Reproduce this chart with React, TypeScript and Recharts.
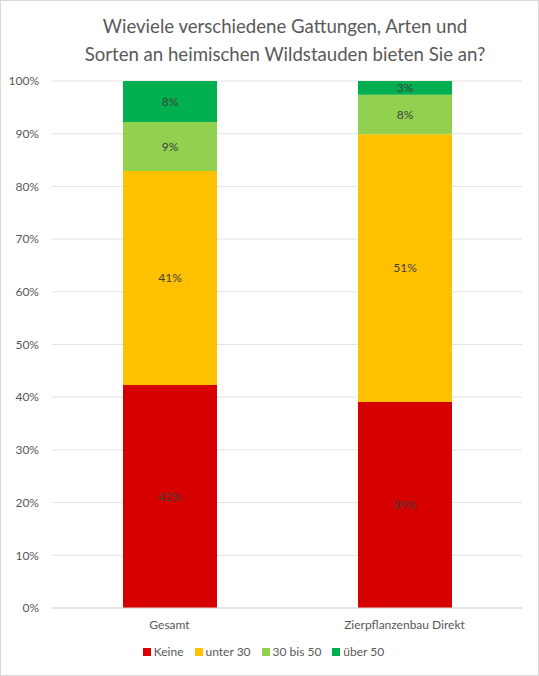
import React from 'react';
import { BarChart, Bar, XAxis, YAxis, CartesianGrid, Legend, LabelList } from 'recharts';

const categories = ['Gesamt', 'Zierpflanzenbau Direkt'];
const keine = [42.3, 39.1];
const unter30 = [40.6, 50.8];
const bis50 = [9.3, 7.5];
const ueber50 = [7.8, 2.6];
const yTicks = [0, 10, 20, 30, 40, 50, 60, 70, 80, 90, 100];

const SERIES = [
  { key: 'keine', name: 'Keine', color: '#d60000' },
  { key: 'unter30', name: 'unter 30', color: '#ffc000' },
  { key: 'bis50', name: '30 bis 50', color: '#92d050' },
  { key: 'ueber50', name: 'über 50', color: '#00b050' },
];

const data = categories.map((c, i) => ({
  name: c,
  keine: keine[i],
  unter30: unter30[i],
  bis50: bis50[i],
  ueber50: ueber50[i],
}));

const FONT = 'Lato, "Open Sans", sans-serif';

// legend in series order (recharts would sort it otherwise)
const renderLegend = () => (
  <div style={{ display: 'flex', justifyContent: 'center', gap: 11, fontSize: 12, color: '#595959', fontFamily: FONT }}>
    {SERIES.map(s => (
      <span key={s.key} style={{ display: 'flex', alignItems: 'center' }}>
        <span style={{ width: 8, height: 8, background: s.color, marginRight: 3, display: 'inline-block' }} />
        {s.name}
      </span>
    ))}
  </div>
);

export default function App() {
  return (
    <div style={{ position: 'absolute', left: 0, top: 0, width: 539, height: 676, background: '#fff', fontFamily: FONT }}>
      <div style={{ position: 'absolute', left: 0, top: 0, width: 537, height: 674, border: '1px solid #d9d9d9' }} />
      <div style={{ position: 'absolute', left: 30, width: 510, top: 12, textAlign: 'center', fontSize: 18.6, lineHeight: '28px', color: '#595959' }}>
        Wieviele verschiedene Gattungen, Arten und
        <br />
        Sorten an heimischen Wildstauden bieten Sie an?
      </div>
      <div style={{ position: 'absolute', left: 0, top: 0 }}>
        <BarChart width={539} height={676} data={data} margin={{ top: 81, right: 17, left: 0, bottom: 0 }} barSize={94}>
          <CartesianGrid vertical={false} stroke="#e3e3e3" />
          <XAxis dataKey="name" axisLine={{ stroke: '#d9d9d9' }} tickLine={false} height={36} tickMargin={6}
            tick={{ fill: '#595959', fontSize: 12, fontFamily: FONT }} />
          <YAxis domain={[0, 100]} ticks={yTicks} width={52} axisLine={false} tickLine={false} tickMargin={7}
            tickFormatter={(v: number) => `${v}%`} tick={{ fill: '#595959', fontSize: 12, fontFamily: FONT }} />
          <Legend verticalAlign="bottom" height={32} content={renderLegend} wrapperStyle={{ left: -6, width: 539 }} />
          {SERIES.map(s => (
            <Bar key={s.key} dataKey={s.key} name={s.name} stackId="a" fill={s.color} isAnimationActive={false}>
              <LabelList dataKey={s.key} position="center" fill="#404040" fontSize={12} fontFamily={FONT}
                formatter={(v: number) => `${Math.round(v)}%`} />
            </Bar>
          ))}
        </BarChart>
      </div>
    </div>
  );
}
